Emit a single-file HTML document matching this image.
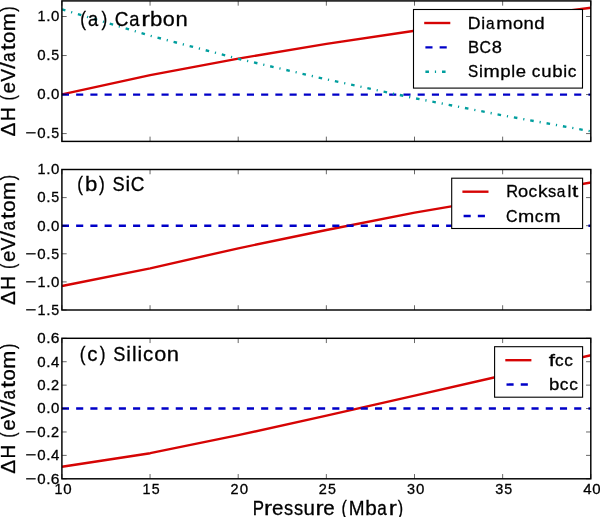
<!DOCTYPE html>
<html><head><meta charset="utf-8"><style>
html,body{margin:0;padding:0;background:#fff;}
svg{display:block;will-change:transform;}
text{font-family:"Liberation Sans",sans-serif;stroke:#000;stroke-width:0.3px;}
</style></head><body>
<svg width="600" height="517" viewBox="0 0 600 517">
<defs><clipPath id="c0"><rect x="61.9" y="0.9" width="528.9" height="140.5"/></clipPath><clipPath id="c1"><rect x="61.9" y="169.5" width="528.9" height="140.5"/></clipPath><clipPath id="c2"><rect x="61.9" y="338.3" width="528.9" height="140.5"/></clipPath></defs>
<rect width="600" height="517" fill="#fff"/>
<g clip-path="url(#c0)" fill="none" stroke-width="2.38">
<polyline points="62.00,94.30 150.20,75.20 238.30,58.60 326.50,43.95 414.70,30.70 502.80,19.20 591.00,7.70" stroke="#d60404" stroke-linejoin="round"/>
<line x1="61.9" y1="94.57" x2="590.8" y2="94.57" stroke="#0000c8" stroke-dasharray="7.115 7.115"/>
<polyline points="62.00,9.30 150.20,35.70 238.30,58.80 326.50,79.40 414.70,98.20 502.80,115.40 591.00,131.30" stroke="#009e9e" stroke-dasharray="3.558 5.93 1.186 5.93" stroke-linejoin="round"/>
</g>
<path d="M61.90 141.40v-4.76M61.90 0.90v4.76M150.05 141.40v-4.76M150.05 0.90v4.76M238.20 141.40v-4.76M238.20 0.90v4.76M326.35 141.40v-4.76M326.35 0.90v4.76M414.50 141.40v-4.76M414.50 0.90v4.76M502.65 141.40v-4.76M502.65 0.90v4.76M590.80 141.40v-4.76M590.80 0.90v4.76M61.9 133.59h4.76M590.8 133.59h-4.76M61.9 94.57h4.76M590.8 94.57h-4.76M61.9 55.54h4.76M590.8 55.54h-4.76M61.9 16.51h4.76M590.8 16.51h-4.76" stroke="#000" stroke-width="0.6" fill="none"/>
<rect x="61.9" y="0.9" width="528.9" height="140.5" fill="none" stroke="#000" stroke-width="1.45"/>
<rect x="413.5" y="9.5" width="169.00" height="78.60" fill="#fff" stroke="#000" stroke-width="1.1"/>
<line x1="424.20" y1="23.00" x2="450.30" y2="23.00" stroke="#d60404" stroke-width="2.38"/>
<g font-size="17.34" fill="#000"><text transform="translate(474.53,28.55) scale(1.022,1)" x="-6.56">D</text><text transform="translate(483.18,28.55) scale(1.010,1)" x="-1.92">i</text><text transform="translate(490.55,28.55) scale(0.889,1)" x="-5.19">a</text><text transform="translate(504.46,28.55) scale(1.126,1)" x="-7.23">m</text><text transform="translate(518.01,28.55) scale(1.051,1)" x="-4.82">o</text><text transform="translate(528.73,28.55) scale(1.065,1)" x="-4.84">n</text><text transform="translate(539.24,28.55) scale(1.074,1)" x="-4.63">d</text></g>
<line x1="425.40" y1="47.35" x2="449.10" y2="47.35" stroke="#0000c8" stroke-width="2.38" stroke-dasharray="7.115 7.115"/>
<g font-size="17.34" fill="#000"><text transform="translate(473.71,52.90) scale(0.960,1)" x="-6.04">B</text><text transform="translate(485.36,52.90) scale(0.917,1)" x="-6.37">C</text><text transform="translate(496.77,52.90) scale(1.053,1)" x="-4.82">8</text></g>
<line x1="425.40" y1="71.70" x2="449.10" y2="71.70" stroke="#009e9e" stroke-width="2.38" stroke-dasharray="3.558 5.93 1.186 5.93"/>
<g font-size="17.34" fill="#000"><text transform="translate(473.13,77.25) scale(0.881,1)" x="-5.78">S</text><text transform="translate(480.87,77.25) scale(1.010,1)" x="-1.92">i</text><text transform="translate(491.64,77.25) scale(1.126,1)" x="-7.23">m</text><text transform="translate(505.69,77.25) scale(1.075,1)" x="-5.02">p</text><text transform="translate(513.20,77.25) scale(1.010,1)" x="-1.93">l</text><text transform="translate(520.87,77.25) scale(1.067,1)" x="-4.81">e</text><text transform="translate(536.23,77.25) scale(0.992,1)" x="-4.48">c</text><text transform="translate(546.38,77.25) scale(1.065,1)" x="-4.81">u</text><text transform="translate(557.61,77.25) scale(1.075,1)" x="-5.02">b</text><text transform="translate(565.13,77.25) scale(1.010,1)" x="-1.92">i</text><text transform="translate(572.16,77.25) scale(0.992,1)" x="-4.48">c</text></g>
<g font-size="15.15" fill="#000"><text transform="translate(30.97,138.39) scale(1.216,1)" x="-4.43">−</text><text transform="translate(41.50,138.39) scale(0.995,1)" x="-4.21">0</text><text transform="translate(48.32,138.39) scale(1.021,1)" x="-2.10">.</text><text transform="translate(55.08,138.39) scale(0.939,1)" x="-4.20">5</text></g>
<g font-size="15.15" fill="#000"><text transform="translate(41.50,99.37) scale(0.995,1)" x="-4.21">0</text><text transform="translate(48.32,99.37) scale(1.021,1)" x="-2.10">.</text><text transform="translate(55.15,99.37) scale(0.995,1)" x="-4.21">0</text></g>
<g font-size="15.15" fill="#000"><text transform="translate(41.50,60.34) scale(0.995,1)" x="-4.21">0</text><text transform="translate(48.32,60.34) scale(1.021,1)" x="-2.10">.</text><text transform="translate(55.08,60.34) scale(0.939,1)" x="-4.20">5</text></g>
<g font-size="15.15" fill="#000"><text transform="translate(41.63,21.31) scale(0.950,1)" x="-4.42">1</text><text transform="translate(48.32,21.31) scale(1.021,1)" x="-2.10">.</text><text transform="translate(55.15,21.31) scale(0.995,1)" x="-4.21">0</text></g>
<g font-size="20.19" fill="#000"><text transform="translate(14.90,129.44) rotate(-90) scale(1.037,1)" x="-6.74">Δ</text><text transform="translate(14.90,114.25) rotate(-90) scale(0.939,1)" x="-7.29">H</text><text transform="translate(14.90,97.27) rotate(-90) scale(0.798,1)" x="-3.93">(</text><text transform="translate(14.90,87.73) rotate(-90) scale(1.019,1)" x="-5.59">e</text><text transform="translate(14.90,75.37) rotate(-90) scale(0.958,1)" x="-6.73">V</text><text transform="translate(14.90,65.64) rotate(-90) scale(1.144,1)" x="-2.80">/</text><text transform="translate(14.90,56.89) rotate(-90) scale(0.849,1)" x="-6.04">a</text><text transform="translate(14.90,47.00) rotate(-90) scale(1.261,1)" x="-2.88">t</text><text transform="translate(14.90,37.46) rotate(-90) scale(1.003,1)" x="-5.61">o</text><text transform="translate(14.90,22.30) rotate(-90) scale(1.075,1)" x="-8.41">m</text><text transform="translate(14.90,9.42) rotate(-90) scale(0.798,1)" x="-2.79">)</text></g>
<g font-size="20.97" fill="#000"><text transform="translate(83.59,26.00) scale(0.822,1)" x="-4.08">(</text><text transform="translate(93.44,26.00) scale(0.875,1)" x="-6.28">a</text><text transform="translate(103.93,26.00) scale(0.822,1)" x="-2.90">)</text><text transform="translate(121.59,26.00) scale(0.903,1)" x="-7.70">C</text><text transform="translate(134.63,26.00) scale(0.875,1)" x="-6.28">a</text><text transform="translate(146.32,26.00) scale(1.247,1)" x="-4.01">r</text><text transform="translate(156.43,26.00) scale(1.059,1)" x="-6.07">b</text><text transform="translate(168.78,26.00) scale(1.034,1)" x="-5.83">o</text><text transform="translate(181.54,26.00) scale(1.049,1)" x="-5.85">n</text></g>
<g clip-path="url(#c1)" fill="none" stroke-width="2.38">
<polyline points="62.00,286.00 150.20,268.30 238.30,248.30 326.50,230.00 414.70,212.70 502.80,197.60 591.00,182.50" stroke="#d60404" stroke-linejoin="round"/>
<line x1="61.9" y1="225.70" x2="590.8" y2="225.70" stroke="#0000c8" stroke-dasharray="7.115 7.115"/>
</g>
<path d="M61.90 310.00v-4.76M61.90 169.50v4.76M150.05 310.00v-4.76M150.05 169.50v4.76M238.20 310.00v-4.76M238.20 169.50v4.76M326.35 310.00v-4.76M326.35 169.50v4.76M414.50 310.00v-4.76M414.50 169.50v4.76M502.65 310.00v-4.76M502.65 169.50v4.76M590.80 310.00v-4.76M590.80 169.50v4.76M61.9 310.00h4.76M590.8 310.00h-4.76M61.9 281.90h4.76M590.8 281.90h-4.76M61.9 253.80h4.76M590.8 253.80h-4.76M61.9 225.70h4.76M590.8 225.70h-4.76M61.9 197.60h4.76M590.8 197.60h-4.76M61.9 169.50h4.76M590.8 169.50h-4.76" stroke="#000" stroke-width="0.6" fill="none"/>
<rect x="61.9" y="169.5" width="528.9" height="140.5" fill="none" stroke="#000" stroke-width="1.45"/>
<rect x="451.7" y="178.2" width="130.90" height="50.30" fill="#fff" stroke="#000" stroke-width="1.1"/>
<line x1="462.40" y1="191.70" x2="488.50" y2="191.70" stroke="#d60404" stroke-width="2.38"/>
<g font-size="17.34" fill="#000"><text transform="translate(512.35,197.25) scale(0.945,1)" x="-6.57">R</text><text transform="translate(522.96,197.25) scale(1.051,1)" x="-4.82">o</text><text transform="translate(532.85,197.25) scale(0.992,1)" x="-4.48">c</text><text transform="translate(543.34,197.25) scale(1.105,1)" x="-4.93">k</text><text transform="translate(552.06,197.25) scale(0.947,1)" x="-4.26">s</text><text transform="translate(561.46,197.25) scale(0.889,1)" x="-5.19">a</text><text transform="translate(569.36,197.25) scale(1.010,1)" x="-1.93">l</text><text transform="translate(575.13,197.25) scale(1.300,1)" x="-2.48">t</text></g>
<line x1="463.60" y1="216.05" x2="487.30" y2="216.05" stroke="#0000c8" stroke-width="2.38" stroke-dasharray="7.115 7.115"/>
<g font-size="17.34" fill="#000"><text transform="translate(511.80,221.60) scale(0.917,1)" x="-6.37">C</text><text transform="translate(526.17,221.60) scale(1.126,1)" x="-7.23">m</text><text transform="translate(539.12,221.60) scale(0.992,1)" x="-4.48">c</text><text transform="translate(552.29,221.60) scale(1.126,1)" x="-7.23">m</text></g>
<g font-size="15.15" fill="#000"><text transform="translate(30.97,314.80) scale(1.216,1)" x="-4.43">−</text><text transform="translate(41.63,314.80) scale(0.950,1)" x="-4.42">1</text><text transform="translate(48.32,314.80) scale(1.021,1)" x="-2.10">.</text><text transform="translate(55.08,314.80) scale(0.939,1)" x="-4.20">5</text></g>
<g font-size="15.15" fill="#000"><text transform="translate(30.97,286.70) scale(1.216,1)" x="-4.43">−</text><text transform="translate(41.63,286.70) scale(0.950,1)" x="-4.42">1</text><text transform="translate(48.32,286.70) scale(1.021,1)" x="-2.10">.</text><text transform="translate(55.15,286.70) scale(0.995,1)" x="-4.21">0</text></g>
<g font-size="15.15" fill="#000"><text transform="translate(30.97,258.60) scale(1.216,1)" x="-4.43">−</text><text transform="translate(41.50,258.60) scale(0.995,1)" x="-4.21">0</text><text transform="translate(48.32,258.60) scale(1.021,1)" x="-2.10">.</text><text transform="translate(55.08,258.60) scale(0.939,1)" x="-4.20">5</text></g>
<g font-size="15.15" fill="#000"><text transform="translate(41.50,230.50) scale(0.995,1)" x="-4.21">0</text><text transform="translate(48.32,230.50) scale(1.021,1)" x="-2.10">.</text><text transform="translate(55.15,230.50) scale(0.995,1)" x="-4.21">0</text></g>
<g font-size="15.15" fill="#000"><text transform="translate(41.50,202.40) scale(0.995,1)" x="-4.21">0</text><text transform="translate(48.32,202.40) scale(1.021,1)" x="-2.10">.</text><text transform="translate(55.08,202.40) scale(0.939,1)" x="-4.20">5</text></g>
<g font-size="15.15" fill="#000"><text transform="translate(41.63,174.30) scale(0.950,1)" x="-4.42">1</text><text transform="translate(48.32,174.30) scale(1.021,1)" x="-2.10">.</text><text transform="translate(55.15,174.30) scale(0.995,1)" x="-4.21">0</text></g>
<g font-size="20.19" fill="#000"><text transform="translate(14.90,298.04) rotate(-90) scale(1.037,1)" x="-6.74">Δ</text><text transform="translate(14.90,282.85) rotate(-90) scale(0.939,1)" x="-7.29">H</text><text transform="translate(14.90,265.87) rotate(-90) scale(0.798,1)" x="-3.93">(</text><text transform="translate(14.90,256.33) rotate(-90) scale(1.019,1)" x="-5.59">e</text><text transform="translate(14.90,243.97) rotate(-90) scale(0.958,1)" x="-6.73">V</text><text transform="translate(14.90,234.24) rotate(-90) scale(1.144,1)" x="-2.80">/</text><text transform="translate(14.90,225.49) rotate(-90) scale(0.849,1)" x="-6.04">a</text><text transform="translate(14.90,215.60) rotate(-90) scale(1.261,1)" x="-2.88">t</text><text transform="translate(14.90,206.06) rotate(-90) scale(1.003,1)" x="-5.61">o</text><text transform="translate(14.90,190.90) rotate(-90) scale(1.075,1)" x="-8.41">m</text><text transform="translate(14.90,178.02) rotate(-90) scale(0.798,1)" x="-2.79">)</text></g>
<g font-size="20.97" fill="#000"><text transform="translate(80.59,190.60) scale(0.822,1)" x="-4.08">(</text><text transform="translate(91.35,190.60) scale(1.059,1)" x="-6.07">b</text><text transform="translate(101.37,190.60) scale(0.822,1)" x="-2.90">)</text><text transform="translate(118.48,190.60) scale(0.867,1)" x="-6.99">S</text><text transform="translate(127.69,190.60) scale(0.995,1)" x="-2.32">i</text><text transform="translate(137.66,190.60) scale(0.903,1)" x="-7.70">C</text></g>
<g clip-path="url(#c2)" fill="none" stroke-width="2.38">
<polyline points="62.00,466.70 150.20,453.20 238.30,435.20 326.50,415.70 414.70,395.70 502.80,375.50 591.00,355.20" stroke="#d60404" stroke-linejoin="round"/>
<line x1="61.9" y1="408.55" x2="590.8" y2="408.55" stroke="#0000c8" stroke-dasharray="7.115 7.115"/>
</g>
<path d="M61.90 478.80v-4.76M61.90 338.30v4.76M150.05 478.80v-4.76M150.05 338.30v4.76M238.20 478.80v-4.76M238.20 338.30v4.76M326.35 478.80v-4.76M326.35 338.30v4.76M414.50 478.80v-4.76M414.50 338.30v4.76M502.65 478.80v-4.76M502.65 338.30v4.76M590.80 478.80v-4.76M590.80 338.30v4.76M61.9 478.80h4.76M590.8 478.80h-4.76M61.9 455.38h4.76M590.8 455.38h-4.76M61.9 431.97h4.76M590.8 431.97h-4.76M61.9 408.55h4.76M590.8 408.55h-4.76M61.9 385.13h4.76M590.8 385.13h-4.76M61.9 361.72h4.76M590.8 361.72h-4.76M61.9 338.30h4.76M590.8 338.30h-4.76" stroke="#000" stroke-width="0.6" fill="none"/>
<rect x="61.9" y="338.3" width="528.9" height="140.5" fill="none" stroke="#000" stroke-width="1.45"/>
<rect x="494.6" y="346.7" width="88.00" height="50.50" fill="#fff" stroke="#000" stroke-width="1.1"/>
<line x1="505.30" y1="360.20" x2="531.40" y2="360.20" stroke="#d60404" stroke-width="2.38"/>
<g font-size="17.34" fill="#000"><text transform="translate(552.08,365.75) scale(1.298,1)" x="-2.54">f</text><text transform="translate(559.39,365.75) scale(0.992,1)" x="-4.48">c</text><text transform="translate(568.81,365.75) scale(0.992,1)" x="-4.48">c</text></g>
<line x1="506.50" y1="384.55" x2="530.20" y2="384.55" stroke="#0000c8" stroke-width="2.38" stroke-dasharray="7.115 7.115"/>
<g font-size="17.34" fill="#000"><text transform="translate(554.45,390.10) scale(1.075,1)" x="-5.02">b</text><text transform="translate(564.23,390.10) scale(0.992,1)" x="-4.48">c</text><text transform="translate(573.66,390.10) scale(0.992,1)" x="-4.48">c</text></g>
<g font-size="15.15" fill="#000"><text transform="translate(30.97,483.60) scale(1.216,1)" x="-4.43">−</text><text transform="translate(41.50,483.60) scale(0.995,1)" x="-4.21">0</text><text transform="translate(48.32,483.60) scale(1.021,1)" x="-2.10">.</text><text transform="translate(55.20,483.60) scale(1.030,1)" x="-4.27">6</text></g>
<g font-size="15.15" fill="#000"><text transform="translate(30.97,460.18) scale(1.216,1)" x="-4.43">−</text><text transform="translate(41.50,460.18) scale(0.995,1)" x="-4.21">0</text><text transform="translate(48.32,460.18) scale(1.021,1)" x="-2.10">.</text><text transform="translate(55.10,460.18) scale(0.995,1)" x="-4.17">4</text></g>
<g font-size="15.15" fill="#000"><text transform="translate(30.97,436.77) scale(1.216,1)" x="-4.43">−</text><text transform="translate(41.50,436.77) scale(0.995,1)" x="-4.21">0</text><text transform="translate(48.32,436.77) scale(1.021,1)" x="-2.10">.</text><text transform="translate(54.96,436.77) scale(0.959,1)" x="-4.21">2</text></g>
<g font-size="15.15" fill="#000"><text transform="translate(41.50,413.35) scale(0.995,1)" x="-4.21">0</text><text transform="translate(48.32,413.35) scale(1.021,1)" x="-2.10">.</text><text transform="translate(55.15,413.35) scale(0.995,1)" x="-4.21">0</text></g>
<g font-size="15.15" fill="#000"><text transform="translate(41.50,389.93) scale(0.995,1)" x="-4.21">0</text><text transform="translate(48.32,389.93) scale(1.021,1)" x="-2.10">.</text><text transform="translate(54.96,389.93) scale(0.959,1)" x="-4.21">2</text></g>
<g font-size="15.15" fill="#000"><text transform="translate(41.50,366.52) scale(0.995,1)" x="-4.21">0</text><text transform="translate(48.32,366.52) scale(1.021,1)" x="-2.10">.</text><text transform="translate(55.10,366.52) scale(0.995,1)" x="-4.17">4</text></g>
<g font-size="15.15" fill="#000"><text transform="translate(41.50,343.10) scale(0.995,1)" x="-4.21">0</text><text transform="translate(48.32,343.10) scale(1.021,1)" x="-2.10">.</text><text transform="translate(55.20,343.10) scale(1.030,1)" x="-4.27">6</text></g>
<g font-size="20.19" fill="#000"><text transform="translate(14.90,466.84) rotate(-90) scale(1.037,1)" x="-6.74">Δ</text><text transform="translate(14.90,451.65) rotate(-90) scale(0.939,1)" x="-7.29">H</text><text transform="translate(14.90,434.67) rotate(-90) scale(0.798,1)" x="-3.93">(</text><text transform="translate(14.90,425.13) rotate(-90) scale(1.019,1)" x="-5.59">e</text><text transform="translate(14.90,412.77) rotate(-90) scale(0.958,1)" x="-6.73">V</text><text transform="translate(14.90,403.04) rotate(-90) scale(1.144,1)" x="-2.80">/</text><text transform="translate(14.90,394.29) rotate(-90) scale(0.849,1)" x="-6.04">a</text><text transform="translate(14.90,384.40) rotate(-90) scale(1.261,1)" x="-2.88">t</text><text transform="translate(14.90,374.86) rotate(-90) scale(1.003,1)" x="-5.61">o</text><text transform="translate(14.90,359.70) rotate(-90) scale(1.075,1)" x="-8.41">m</text><text transform="translate(14.90,346.82) rotate(-90) scale(0.798,1)" x="-2.79">)</text></g>
<g font-size="20.97" fill="#000"><text transform="translate(83.19,361.40) scale(0.822,1)" x="-4.08">(</text><text transform="translate(92.64,361.40) scale(0.976,1)" x="-5.41">c</text><text transform="translate(102.24,361.40) scale(0.822,1)" x="-2.90">)</text><text transform="translate(119.34,361.40) scale(0.867,1)" x="-6.99">S</text><text transform="translate(128.55,361.40) scale(0.995,1)" x="-2.32">i</text><text transform="translate(134.22,361.40) scale(0.995,1)" x="-2.33">l</text><text transform="translate(139.89,361.40) scale(0.995,1)" x="-2.32">i</text><text transform="translate(148.26,361.40) scale(0.976,1)" x="-5.41">c</text><text transform="translate(160.18,361.40) scale(1.034,1)" x="-5.83">o</text><text transform="translate(172.94,361.40) scale(1.049,1)" x="-5.85">n</text></g>
<g font-size="15.15" fill="#000"><text transform="translate(58.58,494.30) scale(0.950,1)" x="-4.42">1</text><text transform="translate(67.55,494.30) scale(0.995,1)" x="-4.21">0</text></g>
<g font-size="15.15" fill="#000"><text transform="translate(146.73,494.30) scale(0.950,1)" x="-4.42">1</text><text transform="translate(155.63,494.30) scale(0.939,1)" x="-4.20">5</text></g>
<g font-size="15.15" fill="#000"><text transform="translate(234.56,494.30) scale(0.959,1)" x="-4.21">2</text><text transform="translate(243.85,494.30) scale(0.995,1)" x="-4.21">0</text></g>
<g font-size="15.15" fill="#000"><text transform="translate(322.71,494.30) scale(0.959,1)" x="-4.21">2</text><text transform="translate(331.93,494.30) scale(0.939,1)" x="-4.20">5</text></g>
<g font-size="15.15" fill="#000"><text transform="translate(411.02,494.30) scale(0.955,1)" x="-4.17">3</text><text transform="translate(420.15,494.30) scale(0.995,1)" x="-4.21">0</text></g>
<g font-size="15.15" fill="#000"><text transform="translate(499.17,494.30) scale(0.955,1)" x="-4.17">3</text><text transform="translate(508.23,494.30) scale(0.939,1)" x="-4.20">5</text></g>
<g font-size="15.15" fill="#000"><text transform="translate(587.30,494.30) scale(0.995,1)" x="-4.17">4</text><text transform="translate(596.45,494.30) scale(0.995,1)" x="-4.21">0</text></g>
<g font-size="20.19" fill="#000"><text transform="translate(258.73,514.60) scale(0.835,1)" x="-7.03">P</text><text transform="translate(268.65,514.60) scale(1.209,1)" x="-3.86">r</text><text transform="translate(277.58,514.60) scale(1.019,1)" x="-5.59">e</text><text transform="translate(288.43,514.60) scale(0.905,1)" x="-4.96">s</text><text transform="translate(298.36,514.60) scale(0.905,1)" x="-4.96">s</text><text transform="translate(309.25,514.60) scale(1.018,1)" x="-5.60">u</text><text transform="translate(320.13,514.60) scale(1.209,1)" x="-3.86">r</text><text transform="translate(329.05,514.60) scale(1.019,1)" x="-5.59">e</text><text transform="translate(344.72,514.60) scale(0.798,1)" x="-3.93">(</text><text transform="translate(356.61,514.60) scale(0.941,1)" x="-8.41">M</text><text transform="translate(371.21,514.60) scale(1.027,1)" x="-5.84">b</text><text transform="translate(382.46,514.60) scale(0.849,1)" x="-6.04">a</text><text transform="translate(393.37,514.60) scale(1.209,1)" x="-3.86">r</text><text transform="translate(400.08,514.60) scale(0.798,1)" x="-2.79">)</text></g>
</svg>
</body></html>
